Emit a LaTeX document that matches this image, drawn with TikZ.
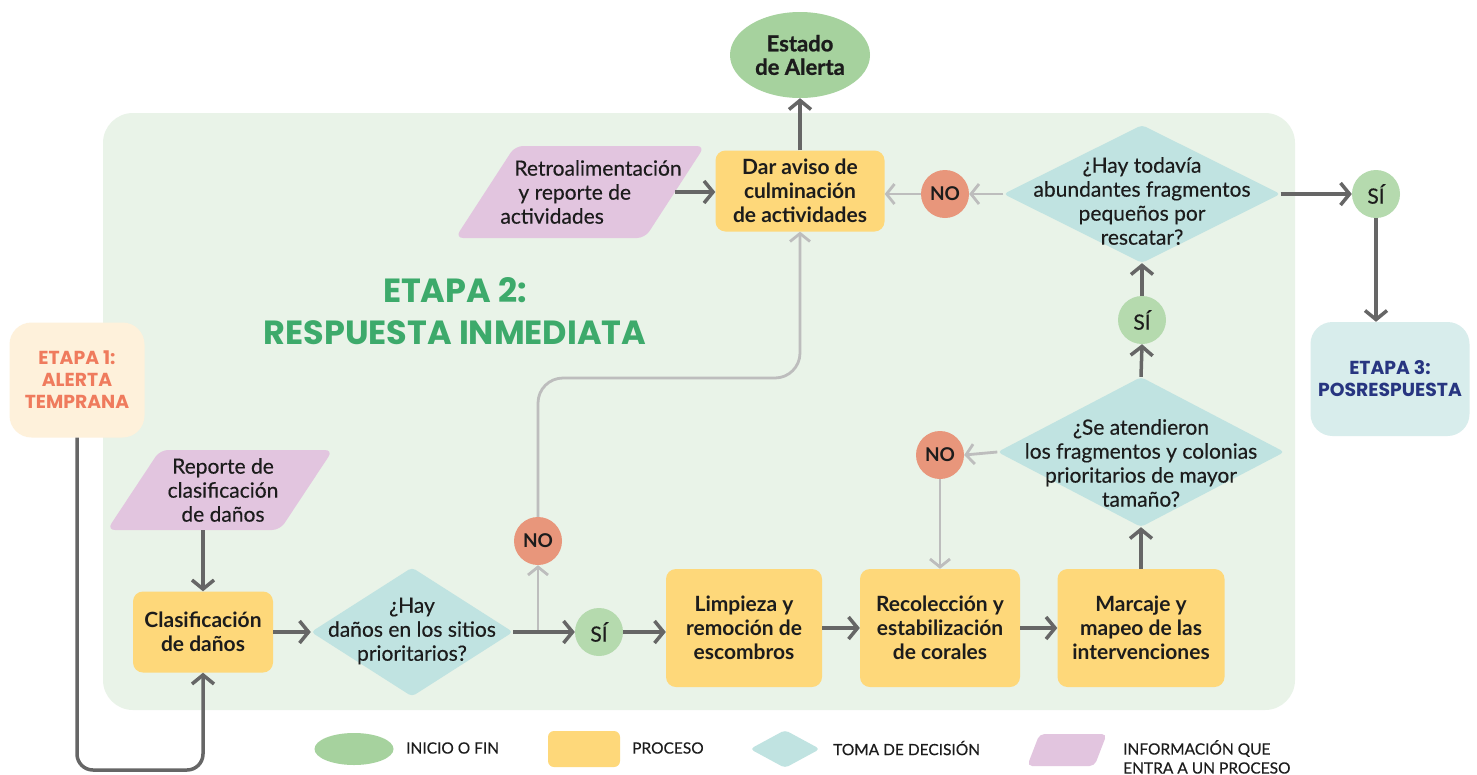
\documentclass[tikz,border=0pt]{standalone}
\usepackage{fontspec}
\setmainfont{Lato}[UprightFeatures={FakeBold=0.3}]
\newfontfamily\etapafont{Poppins}
\usepackage{tikz}
\usetikzlibrary{calc}
\usetikzlibrary{shapes.geometric}
\usetikzlibrary{arrows.meta}
\definecolor{fondo}{HTML}{E9F3E8}
\definecolor{verde}{HTML}{A6D29E}
\definecolor{verdesi}{HTML}{B5DAAE}
\definecolor{amarillo}{HTML}{FED87A}
\definecolor{turquesa}{HTML}{C0E3E1}
\definecolor{lila}{HTML}{E2C5DF}
\definecolor{salmon}{HTML}{E8967B}
\definecolor{gris}{HTML}{666666}
\definecolor{grisclaro}{HTML}{BDBDBD}
\definecolor{texto}{HTML}{1C1C1C}
\definecolor{crema}{HTML}{FEF1DB}
\definecolor{naranja}{HTML}{EF7B5D}
\definecolor{verdetitulo}{HTML}{3DAA6B}
\definecolor{celeste}{HTML}{D8EDEC}
\definecolor{azul}{HTML}{273580}
\tikzset{
	base/.style={font=\fontsize{21}{24}\selectfont, text=texto, align=center, inner sep=0pt},
	proceso/.style={base, fill=amarillo, rounded corners=10pt, font=\bfseries\fontsize{21}{24}\selectfont},
	inicio/.style={base, ellipse, fill=verde, font=\bfseries\fontsize{22}{23.5}\selectfont\addfontfeatures{FakeBold=1}},
	decision/.style={diamond, fill=turquesa, rounded corners=4pt, inner sep=0pt},
	info/.style={trapezium, fill=lila, rounded corners=8pt},
	circulo si/.style={base, circle, fill=verdesi, minimum size=48pt},
	circulo no/.style={base, circle, fill=salmon, minimum size=48pt, font=\bfseries\fontsize{19}{20}\selectfont},
	etapa/.style={align=center, rounded corners=22pt, font=\etapafont\bfseries\fontsize{18.8}{22}\selectfont},
	leyenda/.style={font=\fontsize{15.5}{19}\selectfont, text=texto, align=left, inner sep=0pt},
	flecha/.style={draw=gris, line width=3.5pt, -{Straight Barb[length=9pt,width=22pt]}},
	flecha clara/.style={draw=grisclaro, line width=2.8pt, -{Straight Barb[length=8pt,width=20pt]}},
}
\begin{document}
\begin{tikzpicture}[x=1pt, y=-1pt]
	\useasboundingbox[fill=white] (0,0) rectangle (1477,774);
	% fondo de la etapa 2
	\fill[fondo, rounded corners=30pt] (103,113) rectangle (1295,710);
	\node[etapa, text=verdetitulo, font=\etapafont\bfseries\fontsize{33.5}{42}\selectfont] at (455,311) (titulo) {ETAPA 2:\\RESPUESTA INMEDIATA};

	\node[inicio, minimum width=140, minimum height=86] at (800,55) (estado) {Estado\\de Alerta};
	\node[proceso, minimum width=169, minimum height=81] at (800,191) (aviso) {Dar aviso de\\culminaci\'on\\de actividades};
	\node[info, inner xsep=65pt, inner ysep=46pt, trapezium left angle=57, trapezium right angle=123,
		label={[base, align=left, xshift=11pt]center:{\hspace*{14pt}Retroalimentaci\'on\\\hspace*{18pt}y reporte de\\actividades}}] at (580,192) (retro) {};
	\node[decision, minimum width=277, minimum height=138,
		label={[base, yshift=-7pt]center:{¿Hay todav\'ia\\abundantes fragmentos\\peque\~nos por\\rescatar?}}] at (1142,194) (todavia) {};
	\node[circulo no] at (945,194) (no2) {NO};
	\node[circulo si] at (1376,194) (si3) {S\'I};
	\node[etapa, fill=celeste, text=azul, minimum width=159, minimum height=114] at (1390,379) (etapa3) {ETAPA 3:\\POSRESPUESTA};
	\node[circulo si] at (1142,320) (si2) {S\'I};
	\node[decision, minimum width=287, minimum height=150,
		label={[base, yshift=-11pt]center:{¿Se atendieron\\los fragmentos y colonias\\prioritarios de mayor\\tama\~no?}}] at (1141,452) (atendieron) {};
	\node[circulo no] at (940,455) (no3) {NO};

	\node[etapa, fill=crema, text=naranja, minimum width=135, minimum height=115] at (77,380) (etapa1) {ETAPA 1:\\ALERTA\\TEMPRANA};
	\node[info, inner xsep=60pt, inner ysep=40pt, trapezium left angle=56.5, trapezium right angle=123.5,
		label={[base, xshift=3pt]center:{Reporte de\\clasificaci\'on\\de da\~nos}}] at (220,490) (reporte) {};
	\node[proceso, minimum width=140, minimum height=81] at (203,632) (clasif) {Clasificaci\'on\\de da\~nos};
	\node[decision, minimum width=202, minimum height=129,
		label={[base, yshift=1pt]center:{¿Hay\\da\~nos en los sitios\\prioritarios?}}] at (412,632) (danos) {};
	\node[circulo no] at (538,541) (no1) {NO};
	\node[circulo si] at (599,632) (si1) {S\'I};
	\node[proceso, minimum width=156, minimum height=118] at (744,628) (limpieza) {Limpieza y\\remoci\'on de\\escombros};
	\node[proceso, minimum width=160, minimum height=118] at (940,628) (recoleccion) {Recolecci\'on y\\estabilizaci\'on\\de corales};
	\node[proceso, minimum width=167, minimum height=118] at (1141,628) (marcaje) {Marcaje y\\mapeo de las\\intervenciones};

	% conectores
	\draw[flecha] (aviso.north) -- (estado.south);
	\draw[flecha] (retro.east) -- (retro.east -| aviso.west);
	\draw[flecha clara] (todavia.west) -- (no2.east);
	\draw[flecha clara] (no2.west) -- (no2.west -| aviso.east);
	\draw[flecha] (todavia.east) -- (si3.west);
	\draw[flecha] (si3.south) -- (si3.south |- etapa3.north);
	\draw[flecha] (atendieron.north) -- (si2.south);
	\draw[flecha] (si2.north) -- (todavia.south);
	\draw[flecha clara] (atendieron.west) -- (no3.east);
	\draw[flecha clara] (no3.south) -- (no3.south |- recoleccion.north);
	\coordinate (esquina) at (77,770);
	\draw[flecha, rounded corners=16pt] (etapa1.south) -- (esquina) -| (clasif.south);
	\draw[flecha] (clasif.north |- reporte.south) -- (clasif.north);
	\draw[flecha] (clasif.east) -- (danos.west);
	\draw[flecha clara, rounded corners=4pt] (no1.south |- danos.east) -- (no1.south);
	\coordinate (codo) at (800,378);
	\draw[flecha clara, rounded corners=25pt] (no1.north) |- (codo) -- (aviso.south);
	\draw[flecha] (danos.east) -- (si1.west);
	\draw[flecha] (si1.east) -- (si1.east -| limpieza.west);
	\draw[flecha] (limpieza.east) -- (recoleccion.west);
	\draw[flecha] (recoleccion.east) -- (marcaje.west);
	\draw[flecha] (marcaje.north) -- (marcaje.north |- atendieron.south);

	% leyenda
	\node[inicio, minimum width=79, minimum height=32] at (354,749) (ley1) {};
	\node[leyenda, anchor=west] at (406,748) (ley2) {INICIO O FIN};
	\node[proceso, minimum width=72, minimum height=36, rounded corners=6pt] at (584,749) (ley3) {};
	\node[leyenda, anchor=west] at (632,748) (ley4) {PROCESO};
	\node[decision, minimum width=70, minimum height=38] at (785,749) (ley5) {};
	\node[leyenda, anchor=west] at (833,748) (ley6) {TOMA DE DECISI\'ON};
	\node[info, inner xsep=27.5pt, inner ysep=16pt, trapezium left angle=69, trapezium right angle=111, rounded corners=5pt] at (1067,750) (ley7) {};
	\node[leyenda, anchor=north west] at (1123,740) (ley8) {INFORMACI\'ON QUE\\ENTRA A UN PROCESO};
\end{tikzpicture}
\end{document}
